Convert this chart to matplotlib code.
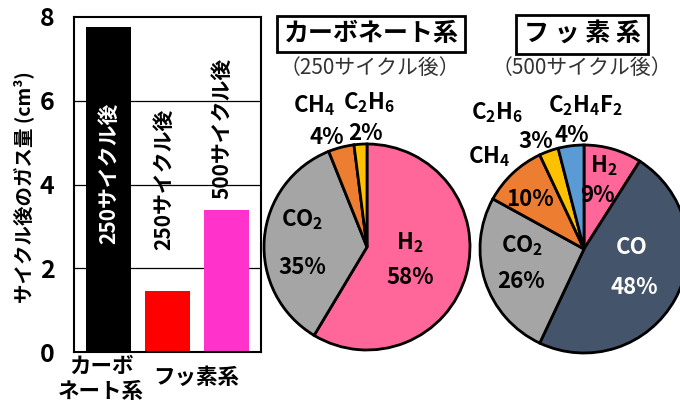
import numpy as np
import matplotlib
matplotlib.use("Agg")
from matplotlib import pyplot as plt

plt.rcParams['font.family'] = ['Noto Sans CJK JP', 'DejaVu Sans']
plt.rcParams['mathtext.fontset'] = 'custom'
plt.rcParams['mathtext.bf'] = 'Noto Sans CJK JP:bold'
plt.rcParams['mathtext.rm'] = 'Noto Sans CJK JP:bold'
plt.rcParams['mathtext.default'] = 'bf'

# gas volume after cycling (cm3)
bar_names = ["カーボネート系 250", "フッ素系 250", "フッ素系 500"]
bar_vals = [7.75, 1.46, 3.39]
bar_colors = ["#000000", "#ff0000", "#ff33cc"]
bar_texts = ["250サイクル後", "250サイクル後", "500サイクル後"]

# gas composition (%)
carb_gas = ["H2", "CO2", "CH4", "C2H6"]
carb_pct = [58, 35, 4, 2]
carb_col = ["#ff6699", "#a5a5a5", "#ed7d31", "#ffc000"]

fluo_gas = ["H2", "CO", "CO2", "CH4", "C2H6", "C2H4F2"]
fluo_pct = [9, 48, 26, 10, 3, 4]
fluo_col = ["#ff6699", "#44546a", "#a5a5a5", "#ed7d31", "#ffc000", "#5b9bd5"]

W, H = 680, 404
fig = plt.figure(figsize=(6.8, 4.04), dpi=100, facecolor="w")

def ftext(px, py, s, **kw):
    kw.setdefault("ha", "center")
    kw.setdefault("va", "center")
    kw.setdefault("fontweight", "bold")
    return fig.text(px / W, 1 - py / H, s, **kw)

######### bars ############
ax = fig.add_axes([74 / W, 1 - 352 / H, 187 / W, 335 / H])
x = np.arange(len(bar_vals))
ax.bar(x, bar_vals, width=0.76, color=bar_colors, zorder=2)
ax.set_xlim(-0.585, 2.585)
ax.set_ylim(0, 8)
ax.set_yticks([0, 2, 4, 6, 8])
ax.set_yticklabels(["0", "2", "4", "6", "8"], fontsize=18, fontweight="bold")
ax.tick_params(axis="y", length=0, pad=14)
ax.set_xticks([])
for y in [2, 4, 6]:
    ax.axhline(y, color="black", lw=0.9, zorder=1)
for s in ax.spines.values():
    s.set_linewidth(1.5)

ftext(24, 187, "サイクル後のガス量 (cm³)", fontsize=14, rotation=90)

txt_y = [4.27, 4.13, 5.35]
txt_dx = [0, -0.07, -0.07]
txt_c = ["white", "black", "black"]
for i in range(3):
    ax.text(x[i] + txt_dx[i], txt_y[i], bar_texts[i], rotation=90, ha="center",
            va="center", fontsize=15, fontweight="bold", color=txt_c[i], zorder=3)

ftext(101, 366, "カーボ", fontsize=15.5)
ftext(101, 391, "ネート系", fontsize=15.5)
ftext(196, 378, "フッ素系", fontsize=15.5)

######### pies ############
def draw_pie(cx, cy, r, vals, cols):
    pax = fig.add_axes([(cx - r) / W, 1 - (cy + r) / H, 2 * r / W, 2 * r / H])
    wedges, _ = pax.pie(vals, colors=cols, startangle=90, counterclock=False,
                        wedgeprops=dict(edgecolor="black", linewidth=2.0))
    for w in wedges:
        w.set_clip_on(False)
    pax.set_xlim(-1, 1)
    pax.set_ylim(-1, 1)
    return pax

draw_pie(367, 247, 103, carb_pct, carb_col)
draw_pie(584, 249, 104, fluo_pct, fluo_col)

# titles
ftext(371, 34, "カーボネート系", fontsize=18,
      bbox=dict(boxstyle="square,pad=0.25", fc="white", ec="black", lw=2))
ftext(582, 34, "フ ッ 素 系", fontsize=18,
      bbox=dict(boxstyle="square,pad=0.3", fc="white", ec="black", lw=2))
ftext(370, 68, "（250サイクル後）", fontsize=15, fontweight="normal", color="#333333")
ftext(582, 68, "（500サイクル後）", fontsize=15, fontweight="normal", color="#333333")

fs = 16
# carbonate labels
ftext(314, 106, "CH$_4$", fontsize=fs)
ftext(327, 137, "%d%%" % carb_pct[2], fontsize=fs)
ftext(369, 103, "C$_2$H$_6$", fontsize=fs)
ftext(365, 133, "%d%%" % carb_pct[3], fontsize=fs)
ftext(302, 220, "CO$_2$", fontsize=fs)
ftext(302, 268, "%d%%" % carb_pct[1], fontsize=fs)
ftext(410, 243, "H$_2$", fontsize=fs)
ftext(410, 278, "%d%%" % carb_pct[0], fontsize=fs)

# fluorine labels
ftext(497, 113, "C$_2$H$_6$", fontsize=fs)
ftext(536, 141, "%d%%" % fluo_pct[4], fontsize=fs)
ftext(586, 106, "C$_2$H$_4$F$_2$", fontsize=fs)
ftext(572, 135, "%d%%" % fluo_pct[5], fontsize=fs)
ftext(489, 157, "CH$_4$", fontsize=fs)
ftext(530, 199, "%d%%" % fluo_pct[3], fontsize=fs)
ftext(604, 166, "H$_2$", fontsize=fs)
ftext(597, 196, "%d%%" % fluo_pct[0], fontsize=fs)
ftext(522, 246, "CO$_2$", fontsize=fs)
ftext(521, 281, "%d%%" % fluo_pct[2], fontsize=fs)
ftext(632, 247, "CO", fontsize=fs, color="white")
ftext(634, 287, "%d%%" % fluo_pct[1], fontsize=fs, color="white")

fig.savefig("out.png", dpi=100, facecolor="w")
